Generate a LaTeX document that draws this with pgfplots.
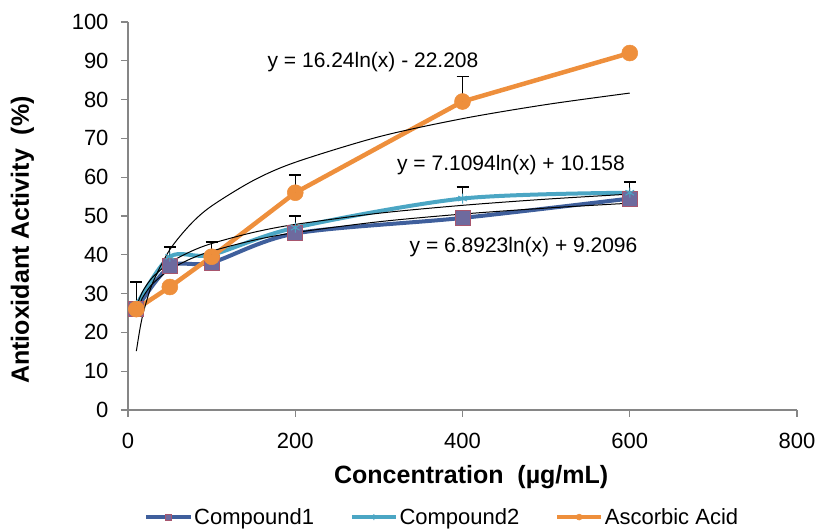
\documentclass[border=0pt]{standalone}
\usepackage{fontspec}
\setmainfont{Liberation Sans}
\usepackage{pgfplots}
\pgfplotsset{compat=1.18}

\definecolor{cOne}{HTML}{3F5F9C}
\definecolor{cTwo}{HTML}{4BA6C4}
\definecolor{cOr}{HTML}{EE8F3C}
\definecolor{cSq}{HTML}{6E6A9E}
\definecolor{cSqB}{HTML}{A8566E}
\definecolor{axgray}{HTML}{868686}

\begin{document}
\begin{tikzpicture}
\begin{axis}[
    at={(128bp,121bp)}, anchor=south west,
    scale only axis, width=669bp, height=388bp,
    xmin=0, xmax=800, ymin=0, ymax=100,
    axis x line=bottom, axis y line=left,
    axis line style={-, draw=axgray, line width=1.3bp},
    xtick={0,200,...,800}, ytick={0,10,...,100},
    tick align=outside, major tick length=7bp,
    tick style={axgray, line width=1.3bp},
    tick label style={font=\fontsize{22bp}{24bp}\selectfont},
    xticklabel style={yshift=-13bp},
    yticklabel style={xshift=-9bp},
    /pgf/number format/assume math mode=true,
    xlabel={\bfseries Concentration\ \ (µg/mL)},
    ylabel={\bfseries Antioxidant Activity\ \ (\%)},
    label style={font=\fontsize{25bp}{27bp}\selectfont},
    xlabel style={at={(axis description cs:0.513,-0.172)}, anchor=center},
    ylabel style={at={(axis description cs:-0.158,0.438)}, anchor=center, rotate=0},
    legend style={at={(0.47,-0.276)}, anchor=center, draw=none, inner sep=0pt,
        font=\fontsize{22bp}{24bp}\selectfont,
        /tikz/every even column/.append style={column sep=34bp}},
    legend columns=3,
    legend image code/.code={\draw[mark repeat=2,mark phase=2,#1]
        plot coordinates {(0bp,0bp) (22bp,0bp) (44bp,0bp)};},
    legend image post style={mark size=3bp, line width=3.5bp},
]
% series
\addplot[cOne, line width=4bp, smooth, mark=square*, mark size=7.5bp,
    mark options={fill=cSq, draw=cSqB, line width=1bp}]
    coordinates {(10,26) (50,37) (100,38) (200,45.5) (400,49.5) (600,54.5)};
\addlegendentry{Compound1}
\addplot[cTwo, line width=4bp, smooth, mark=asterisk, mark size=5bp,
    mark options={line width=1bp}]
    coordinates {(10,27) (50,39.5) (100,40) (200,47) (400,54.5) (600,56)};
\addlegendentry{Compound2}
\addplot[cOr, line width=4.5bp, mark=*, mark size=8bp, mark options={line width=0.5bp}]
    coordinates {(10,26) (50,31.7) (100,39.5) (200,56) (400,79.5) (600,92)};
\addlegendentry{Ascorbic Acid}

% log trendlines, evaluated from the printed equations
\addplot[black, line width=1bp, smooth, forget plot] coordinates {
    (10,15.19) (15,21.77) (20,26.44) (30,33.03) (50,41.32) (75,47.91)
    (100,52.58) (150,59.17) (200,63.84) (300,70.42) (400,75.09) (500,78.72) (600,81.68)};
\addplot[black, line width=1bp, smooth, forget plot] coordinates {
    (10,26.53) (15,29.41) (20,31.46) (30,34.34) (50,37.97) (75,40.85)
    (100,42.90) (150,45.78) (200,47.83) (300,50.71) (400,52.75) (500,54.34) (600,55.64)};
\addplot[black, line width=1bp, smooth, forget plot] coordinates {
    (10,25.08) (15,27.87) (20,29.86) (30,32.65) (50,36.17) (75,38.97)
    (100,40.95) (150,43.74) (200,45.73) (300,48.52) (400,50.50) (500,52.04) (600,53.30)};

% error bars (plus side only)
\addplot[only marks, mark=none, mark size=0bp, forget plot,
    error bars/.cd, y dir=plus, y explicit,
    error bar style={black, line width=1.3bp},
    error mark options={rotate=90, black, line width=1.3bp, mark size=6bp}]
    coordinates {(10,27) +- (0,6) (50,39.5) +- (0,2.5) (100,40) +- (0,3.3)
                 (200,47) +- (0,3) (400,54.5) +- (0,3) (600,56) +- (0,2.8)
                 (200,56) +- (0,4.6) (400,79.5) +- (0,6.5)};

\node[font=\fontsize{21bp}{23bp}\selectfont] at (axis cs:293,89.7) {y = 16.24ln(x) - 22.208};
\node[font=\fontsize{21bp}{23bp}\selectfont] at (axis cs:458,63.1) {y = 7.1094ln(x) + 10.158};
\node[font=\fontsize{21bp}{23bp}\selectfont] at (axis cs:473,42) {y = 6.8923ln(x) + 9.2096};
\end{axis}
\pgfresetboundingbox
\useasboundingbox (0,0) rectangle (825bp,531bp);
\end{tikzpicture}
\end{document}
